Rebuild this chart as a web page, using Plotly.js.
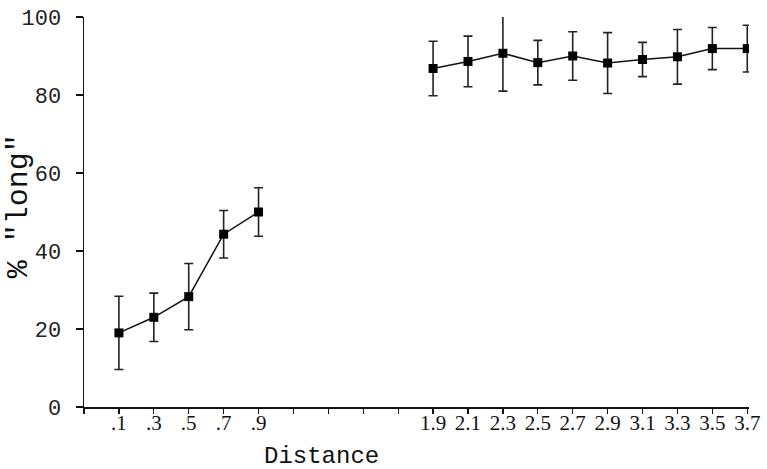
<!DOCTYPE html>
<html>
<head>
<meta charset="utf-8">
<script src="https://cdn.plot.ly/plotly-3.0.1.min.js"></script>
<style>html,body{margin:0;padding:0;background:#fff;}#chart{width:767px;height:469px;}</style>
</head>
<body>
<div id="chart"></div>
<script>
// Data
const nearDistance = [0.1, 0.3, 0.5, 0.7, 0.9];
const nearLong = [19.0, 23.0, 28.3, 44.3, 50.0];
const nearErr = [9.4, 6.2, 8.5, 6.1, 6.2];

const farDistance = [1.9, 2.1, 2.3, 2.5, 2.7, 2.9, 3.1, 3.3, 3.5, 3.7];
const farLong = [86.8, 88.6, 90.7, 88.3, 90.0, 88.2, 89.1, 89.8, 91.9, 91.9];
const farErr = [7.0, 6.5, 9.7, 5.7, 6.2, 7.8, 4.4, 7.0, 5.4, 6.0];

const xTickVals = [-0.1, 0.1, 0.3, 0.5, 0.7, 0.9, 1.1, 1.3, 1.5, 1.7, 1.9, 2.1, 2.3, 2.5, 2.7, 2.9, 3.1, 3.3, 3.5, 3.7];
const xTickText = ["", ".1", ".3", ".5", ".7", ".9", "", "", "", "", "1.9", "2.1", "2.3", "2.5", "2.7", "2.9", "3.1", "3.3", "3.5", "3.7"];
const yTickVals = [0, 20, 40, 60, 80, 100];

const xTitle = "Distance";
const yTitle = '% "long"';

function series(x, y, e) {
  return {
    x: x, y: y, type: 'scatter', mode: 'lines+markers',
    line: {color: '#111', width: 1.5},
    marker: {symbol: 'square', size: 9, color: '#000'},
    error_y: {type: 'data', array: e, visible: true, color: '#222', thickness: 1.6, width: 4.5},
    showlegend: false, hoverinfo: 'skip'
  };
}

const data = [series(nearDistance, nearLong, nearErr), series(farDistance, farLong, farErr)];

const layout = {
  width: 767, height: 469,
  margin: {l: 84, r: 18, t: 17, b: 62},
  paper_bgcolor: '#fff', plot_bgcolor: '#fff',
  xaxis: {
    range: [-0.1, 3.71], showgrid: false, zeroline: false,
    showline: true, linecolor: '#111', linewidth: 1.5,
    ticks: 'outside', ticklen: 5, tickwidth: 1.2, tickcolor: '#111',
    tickmode: 'array', tickvals: xTickVals, ticktext: xTickText,
    tickfont: {family: 'Liberation Serif', size: 21, color: '#111'},
    ticklabelstandoff: -9
  },
  yaxis: {
    range: [0, 100], showgrid: false, zeroline: false,
    showline: true, linecolor: '#111', linewidth: 1.5,
    ticks: 'outside', ticklen: 7, tickwidth: 1.2, tickcolor: '#111',
    tickmode: 'array', tickvals: yTickVals,
    tickfont: {family: 'Liberation Mono', size: 22, color: '#222'},
    ticklabelstandoff: 10
  },
  annotations: [
    {text: xTitle, xref: 'paper', yref: 'paper', x: 0.357, y: -0.128, xanchor: 'center', yanchor: 'middle',
     showarrow: false, font: {family: 'Liberation Mono', size: 24, color: '#111'}},
    {text: yTitle, xref: 'paper', yref: 'paper', x: -0.098, y: 0.514, xanchor: 'center', yanchor: 'middle',
     textangle: -90, showarrow: false, font: {family: 'Liberation Mono', size: 30, color: '#111'}}
  ]
};

Plotly.newPlot('chart', data, layout, {displayModeBar: false, staticPlot: true});
</script>
</body>
</html>
